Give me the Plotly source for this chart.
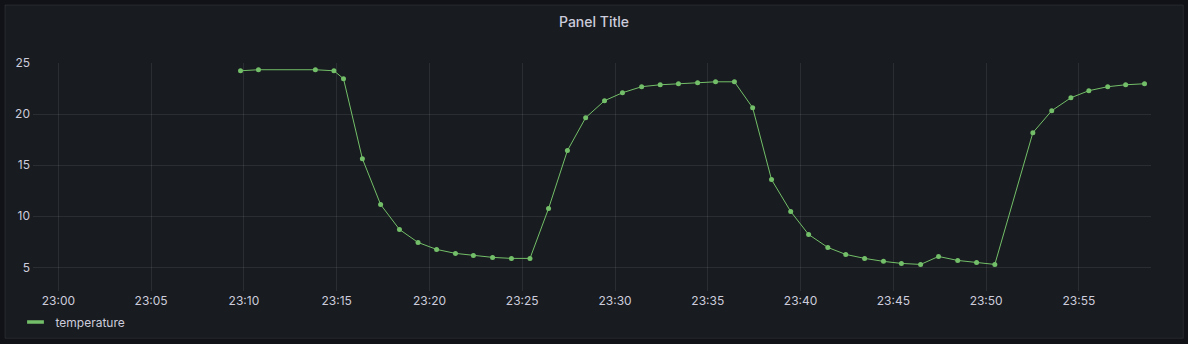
import plotly.graph_objects as go

DAY = "2024-01-01 "
times = ["23:09:49","23:10:47","23:13:51","23:14:51","23:15:22","23:16:23","23:17:22",
         "23:18:23","23:19:23","23:20:23","23:21:24","23:22:22","23:23:24","23:24:25",
         "23:25:25","23:26:25","23:27:26","23:28:25","23:29:26","23:30:24","23:31:26",
         "23:32:26","23:33:25","23:34:27","23:35:25","23:36:26","23:37:25","23:38:26",
         "23:39:28","23:40:26","23:41:28","23:42:26","23:43:27","23:44:28","23:45:26",
         "23:46:28","23:47:26","23:48:28","23:49:29","23:50:28","23:52:31","23:53:32",
         "23:54:34","23:55:32","23:56:33","23:57:31","23:58:32"]
temperature = [24.24,24.34,24.34,24.24,23.46,15.64,11.15,8.71,7.44,6.76,6.37,6.17,5.98,5.88,
               5.88,10.76,16.43,19.65,21.31,22.09,22.68,22.87,22.97,23.07,23.16,23.16,20.62,
               13.59,10.47,8.22,6.95,6.27,5.88,5.59,5.39,5.29,6.07,5.68,5.49,5.29,18.18,
               20.33,21.60,22.29,22.68,22.87,22.97]
series_name = "temperature"
title_text = "Panel Title"
x_range = ["22:58:38", "23:58:53"]
y_range = [2.69, 25]
y_ticks = [5, 10, 15, 20, 25]

GREEN = "#73bf69"
TEXT = "#ccccdc"
GRID = "rgba(204,204,220,0.10)"
PAGE_BG = "#111217"
PANEL_BG = "#181b1f"

W, H = 1188, 344
ML, MR, MT, MB = 33, 37, 63, 53
PW, PH = W - ML - MR, H - MT - MB


def px_x(p):
    return (p - ML) / PW


def px_y(p):
    return (H - MB - p) / PH


xs = [DAY + t for t in times]

fig = go.Figure()
fig.add_trace(go.Scatter(
    x=xs, y=temperature, mode="lines+markers", name=series_name,
    line=dict(color=GREEN, width=1), marker=dict(color=GREEN, size=5),
    showlegend=False, legendgroup="t", hoverinfo="x+y"))
fig.add_trace(go.Scatter(
    x=[None], y=[None], mode="markers", name=series_name, legendgroup="t",
    marker=dict(symbol="line-ew", size=12, color=GREEN,
                line=dict(color=GREEN, width=3.5)),
    showlegend=True))

fig.add_shape(type="rect", xref="paper", yref="paper",
              x0=px_x(5), x1=px_x(1183.3), y0=px_y(338.3), y1=px_y(5),
              fillcolor=PANEL_BG, line=dict(color="rgba(204,204,220,0.10)", width=1),
              layer="below")

fig.update_layout(
    width=W, height=H,
    margin=dict(l=ML, r=MR, t=MT, b=MB, pad=0, autoexpand=False),
    paper_bgcolor=PAGE_BG, plot_bgcolor="rgba(0,0,0,0)",
    font=dict(family="Inter, Roboto, sans-serif", size=12, color=TEXT),
    title=dict(text=title_text, x=0.5, xref="container", xanchor="center",
               y=1 - 22 / H, yref="container", yanchor="middle",
               font=dict(size=14, color=TEXT, weight=500)),
    showlegend=True,
    legend=dict(orientation="h", x=px_x(15.5), xanchor="left",
                y=px_y(322), yanchor="middle", bgcolor="rgba(0,0,0,0)",
                font=dict(size=12, color=TEXT), itemwidth=30),
    xaxis=dict(type="date", range=[DAY + x_range[0], DAY + x_range[1]],
               dtick=300000, tick0=DAY + "23:00:00", tickformat="%H:%M",
               showgrid=True, gridcolor=GRID, gridwidth=1, zeroline=False,
               showline=False, ticks="", automargin=False, ticklabelstandoff=1,
               tickfont=dict(size=12, color=TEXT)),
    yaxis=dict(range=y_range, tickvals=y_ticks, showgrid=True, gridcolor=GRID,
               gridwidth=1, zeroline=False, showline=False, ticks="",
               automargin=False, ticklabelstandoff=2,
               tickfont=dict(size=12, color=TEXT)),
    hovermode="x",
)

fig.write_html("out.html")
